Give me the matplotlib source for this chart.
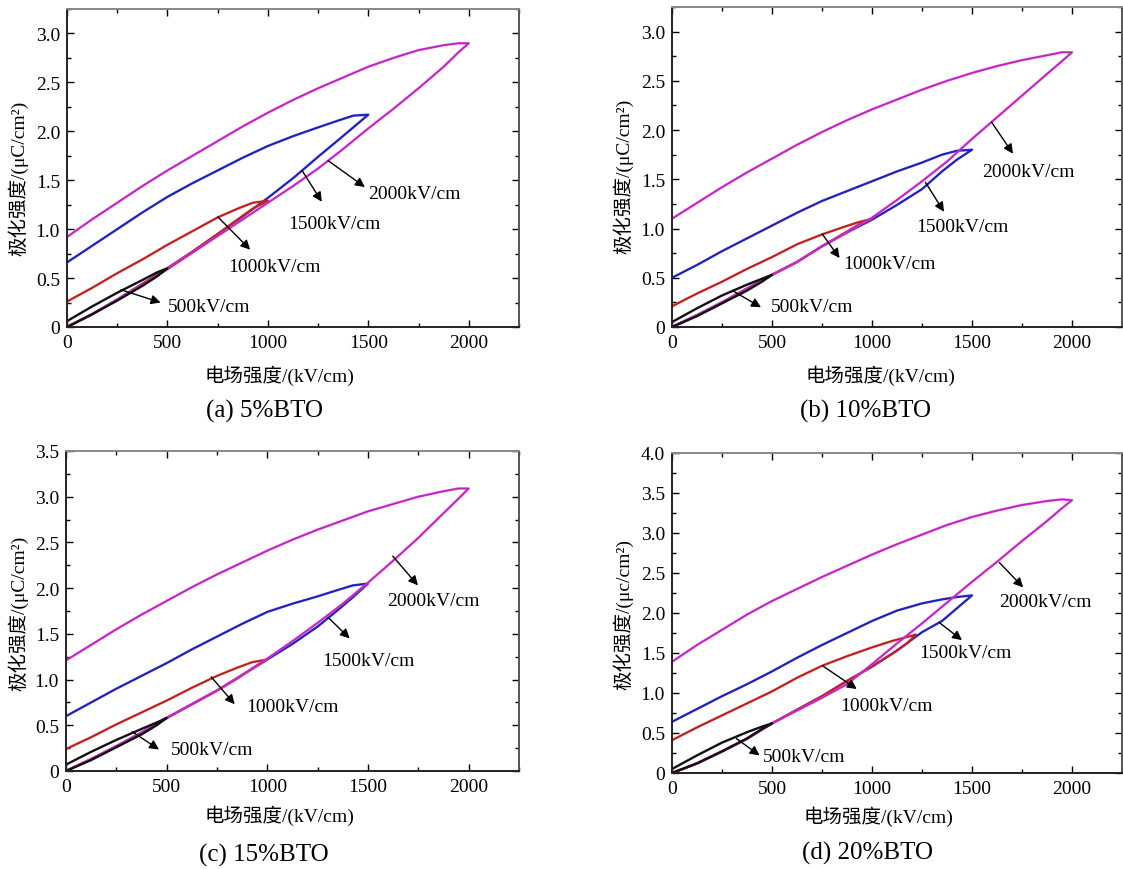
import numpy as np
import matplotlib.pyplot as plt
from matplotlib.ticker import MultipleLocator, FuncFormatter

plt.rcParams['font.family'] = ['Liberation Serif', 'Noto Sans CJK SC']

# field grids (kV/cm) for each loop amplitude
E_500 = [0, 125, 250, 375, 450, 500]
E_1000 = [0, 125, 250, 375, 500, 625, 750, 850, 925, 1000]
E_1000d = [0, 125, 250, 375, 500, 625, 750, 875, 1000, 1100, 1175, 1220]
E_1500 = [0, 125, 250, 375, 500, 625, 750, 875, 1000, 1125, 1250, 1350, 1425, 1500]
E_2000 = [0, 125, 250, 375, 500, 625, 750, 875, 1000, 1125, 1250, 1375,
          1500, 1625, 1750, 1875, 1950, 2000]

# (a) 5%BTO  polarization (uC/cm2): up = falling-field branch, lo = rising-field branch
a_500_up = [0.06, 0.21, 0.35, 0.48, 0.56, 0.60]
a_500_lo = [0.00, 0.13, 0.27, 0.42, 0.52, 0.60]
a_1000_up = [0.26, 0.40, 0.55, 0.69, 0.84, 0.98, 1.12, 1.21, 1.27, 1.29]
a_1000_lo = [0.00, 0.13, 0.28, 0.44, 0.60, 0.77, 0.95, 1.10, 1.21, 1.29]
a_1500_up = [0.66, 0.83, 1.00, 1.17, 1.33, 1.47, 1.60, 1.73, 1.85, 1.95, 2.04, 2.11, 2.16, 2.17]
a_1500_lo = [0.00, 0.13, 0.28, 0.44, 0.60, 0.77, 0.95, 1.13, 1.32, 1.52, 1.74, 1.91, 2.04, 2.17]
a_2000_up = [0.92, 1.10, 1.27, 1.44, 1.60, 1.75, 1.90, 2.05, 2.19, 2.32, 2.44, 2.55,
             2.66, 2.75, 2.83, 2.88, 2.90, 2.90]
a_2000_lo = [0.00, 0.13, 0.28, 0.43, 0.59, 0.76, 0.93, 1.10, 1.27, 1.44, 1.62, 1.82,
             2.03, 2.23, 2.44, 2.66, 2.81, 2.90]

# (b) 10%BTO
b_500_up = [0.05, 0.19, 0.32, 0.43, 0.49, 0.53]
b_500_lo = [0.00, 0.11, 0.24, 0.37, 0.46, 0.53]
b_1000_up = [0.21, 0.34, 0.46, 0.59, 0.71, 0.84, 0.94, 1.01, 1.06, 1.10]
b_1000_lo = [0.00, 0.12, 0.25, 0.39, 0.53, 0.66, 0.82, 0.94, 1.03, 1.10]
b_1500_up = [0.50, 0.63, 0.77, 0.90, 1.03, 1.16, 1.28, 1.38, 1.48, 1.58, 1.67, 1.75, 1.79, 1.80]
b_1500_lo = [0.00, 0.12, 0.25, 0.39, 0.53, 0.66, 0.82, 0.96, 1.09, 1.24, 1.40, 1.58, 1.70, 1.80]
b_2000_up = [1.10, 1.26, 1.42, 1.57, 1.71, 1.85, 1.98, 2.10, 2.21, 2.31, 2.41, 2.50,
             2.58, 2.65, 2.71, 2.76, 2.79, 2.79]
b_2000_lo = [0.00, 0.12, 0.25, 0.39, 0.53, 0.66, 0.82, 0.96, 1.11, 1.29, 1.48, 1.68,
             1.91, 2.13, 2.35, 2.57, 2.70, 2.79]

# (c) 15%BTO
c_500_up = [0.07, 0.21, 0.34, 0.46, 0.53, 0.58]
c_500_lo = [0.00, 0.12, 0.26, 0.40, 0.50, 0.58]
c_1000_up = [0.24, 0.37, 0.51, 0.64, 0.77, 0.91, 1.04, 1.13, 1.19, 1.22]
c_1000_lo = [0.00, 0.13, 0.27, 0.42, 0.58, 0.73, 0.88, 1.01, 1.12, 1.22]
c_1500_up = [0.60, 0.75, 0.90, 1.04, 1.18, 1.33, 1.47, 1.61, 1.74, 1.83, 1.91, 1.98, 2.03, 2.05]
c_1500_lo = [0.00, 0.13, 0.27, 0.42, 0.58, 0.73, 0.88, 1.05, 1.22, 1.39, 1.58, 1.76, 1.90, 2.05]
c_2000_up = [1.21, 1.38, 1.55, 1.71, 1.86, 2.01, 2.15, 2.28, 2.41, 2.53, 2.64, 2.74,
             2.84, 2.92, 3.00, 3.06, 3.09, 3.09]
c_2000_lo = [0.00, 0.13, 0.27, 0.42, 0.58, 0.73, 0.88, 1.05, 1.23, 1.42, 1.62, 1.83,
             2.06, 2.30, 2.55, 2.82, 2.98, 3.09]

# (d) 20%BTO
d_500_up = [0.05, 0.22, 0.38, 0.51, 0.58, 0.62]
d_500_lo = [0.00, 0.12, 0.27, 0.43, 0.55, 0.62]
d_1000_up = [0.41, 0.57, 0.72, 0.87, 1.02, 1.19, 1.34, 1.46, 1.57, 1.65, 1.70, 1.73]
d_1000_lo = [0.00, 0.12, 0.27, 0.43, 0.62, 0.79, 0.96, 1.15, 1.33, 1.49, 1.62, 1.73]
d_1500_up = [0.64, 0.80, 0.96, 1.11, 1.27, 1.44, 1.60, 1.75, 1.90, 2.03, 2.12, 2.17, 2.20, 2.22]
d_1500_lo = [0.00, 0.12, 0.27, 0.43, 0.62, 0.79, 0.96, 1.15, 1.33, 1.53, 1.76, 1.90, 2.06, 2.22]
d_2000_up = [1.39, 1.60, 1.79, 1.98, 2.15, 2.30, 2.45, 2.59, 2.73, 2.86, 2.98, 3.10,
             3.20, 3.28, 3.35, 3.40, 3.42, 3.41]
d_2000_lo = [0.00, 0.12, 0.27, 0.43, 0.62, 0.78, 0.94, 1.11, 1.36, 1.62, 1.87, 2.13,
             2.39, 2.64, 2.90, 3.15, 3.31, 3.41]

field_labels = ['500kV/cm', '1000kV/cm', '1500kV/cm', '2000kV/cm']
captions = ['(a) 5%BTO', '(b) 10%BTO', '(c) 15%BTO', '(d) 20%BTO']
ylabels = ['极化强度/(μC/cm²)', '极化强度/(μC/cm²)',
           '极化强度/(μC/cm²)', '极化强度/(μc/cm²)']
xlabel = '电场强度/(kV/cm)'
y_tops = [3.25, 3.25, 3.5, 4.0]

panels = [
    [(E_500, a_500_up, a_500_lo), (E_1000, a_1000_up, a_1000_lo),
     (E_1500, a_1500_up, a_1500_lo), (E_2000, a_2000_up, a_2000_lo)],
    [(E_500, b_500_up, b_500_lo), (E_1000, b_1000_up, b_1000_lo),
     (E_1500, b_1500_up, b_1500_lo), (E_2000, b_2000_up, b_2000_lo)],
    [(E_500, c_500_up, c_500_lo), (E_1000, c_1000_up, c_1000_lo),
     (E_1500, c_1500_up, c_1500_lo), (E_2000, c_2000_up, c_2000_lo)],
    [(E_500, d_500_up, d_500_lo), (E_1000d, d_1000_up, d_1000_lo),
     (E_1500, d_1500_up, d_1500_lo), (E_2000, d_2000_up, d_2000_lo)],
]

# arrow tail, arrow head, text anchor (data coords) per label
annots = [
    [((269, 0.38), (466, 0.25), (501, 0.21)),
     ((751, 1.125), (912, 0.79), (805, 0.62)),
     ((1170, 1.60), (1268, 1.28), (1099, 1.06)),
     ((1300, 1.70), (1483, 1.43), (1500, 1.36))],
    [((302, 0.37), (445, 0.20), (495, 0.21)),
     ((751, 0.945), (838, 0.70), (856, 0.64)),
     ((1267, 1.47), (1360, 1.17), (1219, 1.02)),
     ((1598, 2.08), (1705, 1.76), (1553, 1.58))],
    [((329, 0.43), (462, 0.235), (521, 0.235)),
     ((721, 1.03), (838, 0.73), (896, 0.71)),
     ((1302, 1.68), (1409, 1.45), (1275, 1.21)),
     ((1623, 2.35), (1748, 2.03), (1593, 1.86))],
    [((322, 0.43), (438, 0.22), (456, 0.20)),
     ((753, 1.34), (924, 1.05), (843, 0.84)),
     ((1337, 1.88), (1450, 1.66), (1238, 1.50)),
     ((1637, 2.63), (1756, 2.32), (1637, 2.14))],
]

colors = ['#111111', '#d42a2a', '#2a2ad0', '#e030e0']
core = [None, '#8a1a1a', '#1a1a80', '#7a2a7a']

W, H = 1123, 870
fig = plt.figure(figsize=(W / 100, H / 100), dpi=100)

# axes boxes in pixels: left, right, top, bottom
boxes = [(67, 519, 10, 328), (672, 1122, 8, 328),
         (66, 519, 452, 772), (672, 1122, 454, 774)]
xlab_pos = [(279, 376), (880, 376), (279, 816), (878, 817)]
cap_pos = [(264, 411), (866, 411), (264, 855), (868, 853)]
ylab_pos = [(18, 178), (623, 176), (18, 613), (623, 615)]

yfmt = FuncFormatter(lambda v, p: '0' if abs(v) < 1e-9 else f'{v:.1f}')

for i in range(4):
    l, r, t, b = boxes[i]
    ax = fig.add_axes([l / W, 1 - b / H, (r - l) / W, (b - t) / H])
    for k in [2, 1, 3, 0]:
        E, up, lo = panels[i][k]
        xs = list(E) + list(E[::-1])
        ys = list(lo) + list(up[::-1])
        ax.plot(xs, ys, color=colors[k], lw=1.7, solid_joinstyle='round')
        if core[k]:
            ax.plot(xs, ys, color=core[k], lw=0.5, alpha=0.7)
    for k in range(4):
        tail, head, txt = annots[i][k]
        ax.annotate('', xy=head, xytext=tail,
                    arrowprops=dict(arrowstyle='-|>', color='k', lw=1.0,
                                    mutation_scale=14, shrinkA=0, shrinkB=0))
        ax.text(txt[0], txt[1], field_labels[k], fontsize=14,
                ha='left', va='center')
    ax.set_xlim(0, 2250)
    ax.set_ylim(0, y_tops[i])
    ax.xaxis.set_major_locator(MultipleLocator(500))
    ax.xaxis.set_minor_locator(MultipleLocator(250))
    ax.yaxis.set_major_locator(MultipleLocator(0.5))
    ax.yaxis.set_minor_locator(MultipleLocator(0.25))
    ax.yaxis.set_major_formatter(yfmt)
    ax.tick_params(which='both', direction='in', top=True, right=True,
                   labelsize=14, width=1.0, pad=5)
    ax.tick_params(which='major', length=5)
    ax.tick_params(which='minor', length=3)
    for side, c in [('left', '#222222'), ('bottom', '#222222'),
                    ('top', '#888888'), ('right', '#555555')]:
        ax.spines[side].set_color(c)
        ax.spines[side].set_linewidth(1.4)

    fig.text(xlab_pos[i][0] / W, 1 - xlab_pos[i][1] / H, xlabel,
             fontsize=14, ha='center', va='center')
    fig.text(cap_pos[i][0] / W, 1 - cap_pos[i][1] / H, captions[i],
             fontsize=18, ha='center', va='center')
    fig.text(ylab_pos[i][0] / W, 1 - ylab_pos[i][1] / H, ylabels[i],
             fontsize=14, ha='center', va='center', rotation=90)

fig.savefig('out.png', dpi=100)
